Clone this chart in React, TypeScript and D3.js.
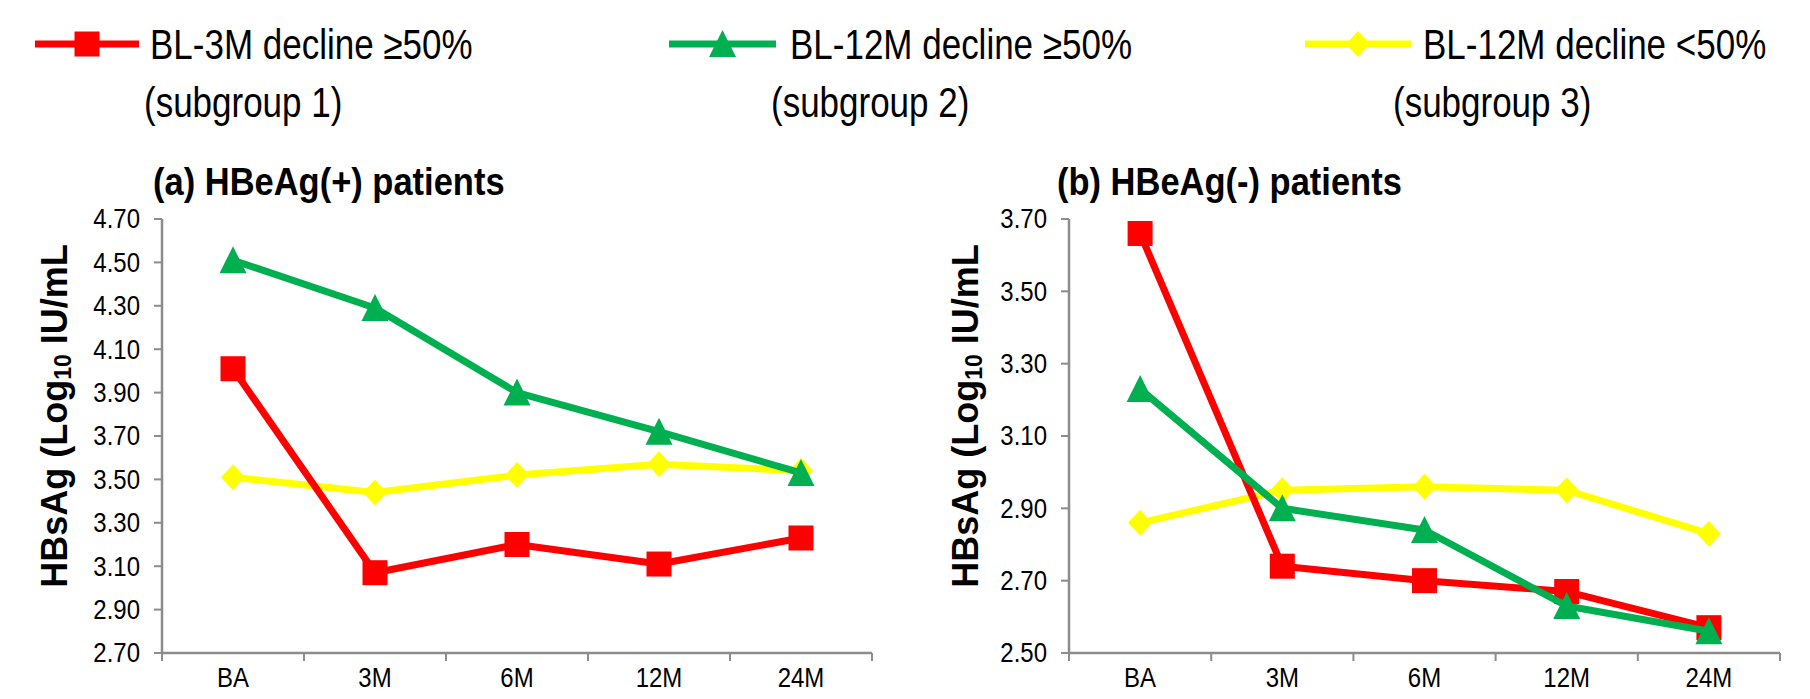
import React from 'react';
import * as d3 from 'd3';

const categories = ['BA', '3M', '6M', '12M', '24M'];
const seriesNames = ['BL-3M decline ≥50%', 'BL-12M decline ≥50%', 'BL-12M decline <50%'];
const subgroupLabels = ['(subgroup 1)', '(subgroup 2)', '(subgroup 3)'];
const seriesColors = ['#FF0000', '#00B050', '#FFFF00'];
const seriesShapes = ['square', 'triangle', 'diamond'];

const posRed = [4.01, 3.07, 3.2, 3.11, 3.23];
const posGreen = [4.51, 4.29, 3.9, 3.72, 3.53];
const posYellow = [3.51, 3.44, 3.52, 3.57, 3.54];
const negRed = [3.66, 2.74, 2.7, 2.67, 2.57];
const negGreen = [3.23, 2.9, 2.84, 2.63, 2.56];
const negYellow = [2.86, 2.95, 2.96, 2.95, 2.83];

const posTicks = ['2.70', '2.90', '3.10', '3.30', '3.50', '3.70', '3.90', '4.10', '4.30', '4.50', '4.70'];
const negTicks = ['2.50', '2.70', '2.90', '3.10', '3.30', '3.50', '3.70'];

const panelTitles = ['(a) HBeAg(+) patients', '(b) HBeAg(-) patients'];

const FONT = "'Liberation Sans', Arial, sans-serif";
const AXIS = '#8c8c8c';

function ST({ x, y, sy = 1, anchor = 'start', size, bold = false, children }: any) {
  return (
    <text
      transform={`translate(${x},${y}) scale(1,${sy})`}
      textAnchor={anchor}
      dominantBaseline="central"
      fontFamily={FONT}
      fontWeight={bold ? 'bold' : 'normal'}
      fontSize={size}
      fill="#000"
    >
      {children}
    </text>
  );
}

function Marker({ shape, color, x, y }: { shape: string; color: string; x: number; y: number }) {
  if (shape === 'square') return <rect x={x - 12.5} y={y - 12.5} width={25} height={25} fill={color} />;
  if (shape === 'triangle') return <path d={`M${x},${y - 14}L${x + 13.5},${y + 13}L${x - 13.5},${y + 13}Z`} fill={color} />;
  return <path d={`M${x},${y - 13}L${x + 12},${y}L${x},${y + 13}L${x - 12},${y}Z`} fill={color} />;
}

function Panel({ x0, x1, yTop, yBot, ticks, series, title, titleX, labelX }: any) {
  const yDomain = [+ticks[0], +ticks[ticks.length - 1]];
  const y = d3.scaleLinear().domain(yDomain).range([yBot, yTop]);
  const x = d3.scaleBand().domain(categories).range([x0, x1]);
  const cx = (c: string) => (x(c) as number) + x.bandwidth() / 2;
  const line = d3.line<number>().x((_, i) => cx(categories[i])).y((d) => y(d));
  const order = [2, 0, 1];
  const bounds = [...categories.map((c) => x(c) as number), x1];
  return (
    <g>
      <ST x={titleX} y={182} sy={1.1} size={34.5} bold>{title}</ST>
      <text transform={`translate(${labelX},${(yTop + yBot) / 2 - 20}) rotate(-90)`} textAnchor="middle" fontFamily={FONT} fontWeight="bold" fontSize={36} fill="#000" dominantBaseline="central">
        HBsAg (Log<tspan fontSize={23} dy={9}>10</tspan><tspan dy={-9}> IU/mL</tspan>
      </text>
      <line x1={x0} x2={x0} y1={yTop} y2={yBot} stroke={AXIS} strokeWidth={2.5} />
      {ticks.map((t: string) => (
        <g key={t}>
          <line x1={x0 - 8} x2={x0} y1={y(+t)} y2={y(+t)} stroke={AXIS} strokeWidth={2} />
          <ST x={x0 - 22} y={y(+t)} sy={1.12} anchor="end" size={24}>{t}</ST>
        </g>
      ))}
      <line x1={x0} x2={x1} y1={yBot} y2={yBot} stroke={AXIS} strokeWidth={2.5} />
      {bounds.map((b, i) => (
        <line key={i} x1={b} x2={b} y1={yBot} y2={yBot + 8} stroke={AXIS} strokeWidth={2} />
      ))}
      {categories.map((c) => (
        <ST key={c} x={cx(c)} y={yBot + 25} sy={1.12} anchor="middle" size={24}>{c}</ST>
      ))}
      {order.map((si) => (
        <g key={si}>
          <path d={line(series[si]) as string} fill="none" stroke={seriesColors[si]} strokeWidth={7} strokeLinejoin="round" />
          {series[si].map((v: number, i: number) => (
            <Marker key={i} shape={seriesShapes[si]} color={seriesColors[si]} x={cx(categories[i])} y={y(v)} />
          ))}
        </g>
      ))}
    </g>
  );
}

export default function App() {
  const legendLines = [[35, 139], [669, 776], [1305, 1411]];
  const legendTextX = [150, 790, 1423];
  const subX = [144, 771, 1393];
  return (
    <svg width={1810} height={699} style={{ position: 'absolute', left: 0, top: 0, background: '#fff' }}>
      <rect width={1810} height={699} fill="#fff" />
      {seriesNames.map((n, i) => (
        <g key={n}>
          <line x1={legendLines[i][0]} x2={legendLines[i][1]} y1={44} y2={44} stroke={seriesColors[i]} strokeWidth={7} />
          <Marker shape={seriesShapes[i]} color={seriesColors[i]} x={(legendLines[i][0] + legendLines[i][1]) / 2} y={44} />
          <ST x={legendTextX[i]} y={44} sy={1.2} size={35}>{n}</ST>
          <ST x={subX[i]} y={102} sy={1.2} size={35}>{subgroupLabels[i]}</ST>
        </g>
      ))}
      <Panel x0={162} x1={872} yTop={219} yBot={653} ticks={posTicks} series={[posRed, posGreen, posYellow]} title={panelTitles[0]} titleX={153} labelX={54} />
      <Panel x0={1069} x1={1780} yTop={219} yBot={653} ticks={negTicks} series={[negRed, negGreen, negYellow]} title={panelTitles[1]} titleX={1057} labelX={965} />
    </svg>
  );
}
